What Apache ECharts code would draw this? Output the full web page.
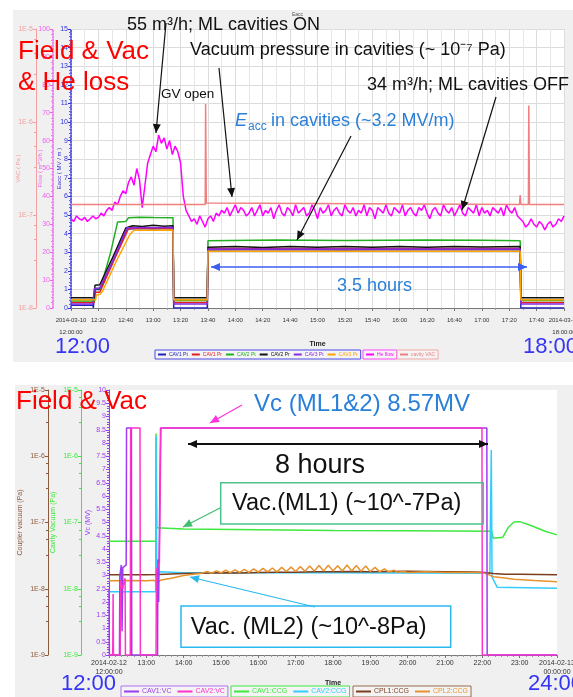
<!DOCTYPE html>
<html>
<head>
<meta charset="utf-8">
<script src="https://cdn.jsdelivr.net/npm/echarts@6/dist/echarts.min.js"></script>
<style>
html,body{margin:0;padding:0;background:#fff;}
#main{width:573px;height:697px;}
</style>
</head>
<body>
<div id="main"></div>
<script>
// ---- top chart (minutes after 12:00, 2014-03-10) ----
var cavNames = ['CAV1 Pt','CAV1 Pr','CAV2 Pt','CAV2 Pr','CAV3 Pt','CAV3 Pr'];
var cavColors = ['#2020c0','#e02020','#22b022','#111111','#8a2be2','#ffa500'];
var cav1Pt = [[0,0.15],[16,0.15],[16.3,0],[17,0],[17.5,1.0],[21,1.0],[22,1.1],[30,2.4],[41,4.25],[50,4.28],[60,4.25],[74.5,4.27],[75,0],[99.5,0],[100,3.12],[150,3.14],[200,3.12],[250,3.15],[300,3.13],[328,3.13],[328.5,0],[360,0]];
var cav1Pr = [[0,0.3],[17,0.3],[18,0.85],[21,0.85],[22,0.95],[31,2.5],[42,4.28],[55,4.3],[74.5,4.28],[75,0.3],[99.5,0.3],[100,3.2],[328,3.2],[328.5,0.3],[360,0.3]];
var cav2Pt = [[0,0.38],[17,0.38],[18,1.05],[21,1.05],[22,1.2],[29,3.0],[34,4.62],[40,4.65],[42,4.85],[50,4.88],[60,4.86],[74.5,4.85],[75,0.4],[99.5,0.4],[100,3.62],[150,3.65],[200,3.63],[260,3.66],[300,3.64],[328,3.62],[328.5,0.4],[360,0.4]];
var cav2Pr = [[0,0.55],[17,0.55],[17.5,1.22],[21,1.25],[22,1.3],[31,2.8],[40,4.3],[45,4.42],[52,4.38],[60,4.45],[68,4.4],[74.5,4.42],[75,0.55],[99.5,0.55],[100,3.27],[120,3.3],[140,3.25],[160,3.3],[180,3.26],[200,3.31],[220,3.27],[240,3.3],[260,3.26],[280,3.31],[300,3.28],[328,3.3],[328.5,0.55],[360,0.55]];
var cav3Pt = [[0,0.22],[16,0.22],[17,1.05],[21,1.08],[22,1.1],[31,2.6],[41,4.32],[74.5,4.33],[75,0.22],[99.5,0.22],[100,3.17],[328,3.17],[328.5,0.22],[360,0.22]];
var cav3Pr = [[0,0.45],[18,0.45],[18.5,0.7],[21,0.72],[23,0.9],[33,2.5],[43,3.95],[46,4.18],[74.5,4.2],[75,0.45],[99.5,0.45],[100,3.05],[328,3.05],[328.5,0.45],[360,0.45]];
var cavData = [cav1Pt, cav1Pr, cav2Pt, cav2Pr, cav3Pt, cav3Pr];

// He flow (m3/h), one reading every 2 min
var heFlow = [
  32,31,33,32,31.5,32.5,31,32,33,32,32.5,
  34,33,35,36,35,
  38,37,40,42,41,45,47,44,
  50,46,36,44,52,
  55,58,56,62,59,
  61,57,60,55,58,56,
  52,40,35,33,31,
  32,30,33,31,29,
  32,33,31,34,33,35,34,36,33,35,37,34,36,35,33,
  34,36,33,35,37,33,35,34,36,32,
  35,37,34,33,36,35,33,37,34,35,
  36,33,34,37,35,32,36,34,35,37,
  33,35,36,34,33,37,35,34,36,33,
  35,34,37,33,36,35,32,36,35,34,
  37,34,33,36,35,34,37,33,35,36,
  34,33,36,35,37,34,32,35,36,34,
  33,37,35,34,36,33,35,37,34,33,
  36,35,34,37,33,36,34,35,33,36,
  35,34,36,33,37,35,34,36,33,32,
  31,29,30,32,30,29,31,30,28,30,31,29,30,32,31,33
];
var cavityVac = [[0,1.3e-7],[98,1.3e-7],[98.3,1.56e-6],[98.8,1.35e-7],[100,1.3e-7],[327.5,1.3e-7],[328,1.64e-7],[328.5,1.3e-7],[334,1.3e-7],[334.3,1.5e-6],[334.8,1.3e-7],[360,1.3e-7]];

// ---- bottom chart (hours, 2014-02-12) ----
var cav1Vc = [[12.0,2.5],[12.01,0],[12.28,0],[12.29,3.0],[12.33,3.4],[12.35,0.9],[12.37,3.3],[12.46,3.4],[12.47,8.57],[12.6,8.57],[12.61,0],[13.3,0],[13.31,3.6],[13.33,2.0],[13.35,4.6],[13.38,8.57],[22.12,8.57],[22.13,0],[24,0]];
var cav2Vc = [[12.0,0],[12.1,0],[12.11,2.3],[12.12,0],[12.3,0],[12.31,2.8],[12.36,2.5],[12.43,2.9],[12.44,0],[12.57,0],[12.58,8.57],[12.83,8.57],[12.84,0],[13.26,0],[13.27,3.2],[13.35,3.5],[13.39,8.57],[21.99,8.57],[22.0,0],[24,0]];
var cav1Ccg = [[12.0,5.2e-8],[13.25,5.2e-8],[13.26,2.2e-6],[13.28,8.3e-8],[14,8.0e-8],[16,7.8e-8],[18,7.6e-8],[20,7.5e-8],[22.25,7.4e-8],[22.29,5.8e-8],[22.55,6.0e-8],[22.7,8.5e-8],[22.85,1.02e-7],[23.0,1.03e-7],[23.3,9.0e-8],[23.7,7.3e-8],[24,6.5e-8]];
var cav2Ccg = [[12.0,9.0e-9],[13.25,9.0e-9],[13.26,2.0e-6],[13.28,1.6e-8],[13.35,1.8e-8],[14,1.75e-8],[16,1.75e-8],[18,1.75e-8],[20,1.73e-8],[22.2,1.72e-8],[22.24,1.24e-6],[22.26,1.5e-8],[22.4,1.05e-8],[24,1.02e-8]];
var cpl1Ccg = [[12.0,1.62e-8],[13.0,1.62e-8],[13.3,1.64e-8],[13.5,1.66e-8],[14.0,1.7e-8],[14.5,1.72e-8],[15.0,1.74e-8],[15.5,1.73e-8],[16.0,1.76e-8],[16.5,1.77e-8],[17.0,1.78e-8],[17.5,1.8e-8],[18.0,1.81e-8],[18.5,1.82e-8],[19.0,1.81e-8],[19.5,1.82e-8],[20.0,1.83e-8],[20.5,1.82e-8],[21.0,1.81e-8],[21.5,1.8e-8],[22.0,1.78e-8],[22.3,1.7e-8],[22.6,1.66e-8],[23.0,1.65e-8],[23.5,1.64e-8],[24.0,1.63e-8]];
var cpl2Ccg = [[12.0,1.32e-8],[12.5,1.33e-8],[13.0,1.32e-8],[13.2,1.34e-8],[13.3,1.25e-8],[13.4,1.36e-8],[13.7,1.45e-8],[14.0,1.58e-8],[14.25,1.66e-8],[14.5,1.72e-8],
  [14.625,1.82e-8],[14.75,1.72e-8],[14.875,1.86e-8],[15.0,1.74e-8],[15.125,1.9e-8],[15.25,1.75e-8],[15.375,1.93e-8],[15.5,1.76e-8],[15.625,1.96e-8],[15.75,1.77e-8],[15.875,2.0e-8],[16.0,1.78e-8],[16.125,2.03e-8],[16.25,1.8e-8],[16.375,2.06e-8],[16.5,1.8e-8],[16.625,2.1e-8],[16.75,1.82e-8],[16.875,2.12e-8],[17.0,1.82e-8],[17.125,2.16e-8],[17.25,1.84e-8],[17.375,2.2e-8],[17.5,1.85e-8],[17.625,2.24e-8],[17.75,1.86e-8],[17.875,2.26e-8],[18.0,1.86e-8],[18.125,2.22e-8],[18.25,1.85e-8],[18.375,2.28e-8],[18.5,1.86e-8],[18.625,2.25e-8],[18.75,1.84e-8],[18.875,2.2e-8],[19.0,1.82e-8],[19.125,2.1e-8],[19.25,1.8e-8],[19.375,2.0e-8],[19.5,1.78e-8],[19.625,1.9e-8],[19.75,1.77e-8],[19.875,1.84e-8],[20.0,1.76e-8],
  [20.5,1.8e-8],[21.0,1.76e-8],[21.5,1.78e-8],[22.0,1.74e-8],[22.15,1.65e-8],[22.3,1.52e-8],[22.6,1.45e-8],[22.85,1.39e-8],[23.4,1.33e-8],[24.0,1.28e-8]];

var FONT = '"Liberation Sans", Arial, sans-serif';

function logLabel(v){ return '1E' + Math.round(Math.log10(v)); }
function topTime(v){
    if (v === 0) return '2014-03-10\n12:00:00';
    if (v === 360) return '2014-03-10\n18:00:00';
    var h = 12 + Math.floor(v / 60), m = v % 60;
    return h + ':' + (m < 10 ? '0' : '') + m;
}
function bottomTime(v){
    if (v === 12) return '2014-02-12\n12:00:00';
    if (v === 24) return '2014-02-13\n00:00:00';
    return v + ':00';
}

// arrows and labels drawn on top
function head(x1,y1,x2,y2,color){
    var a = Math.atan2(y2-y1, x2-x1), L = 9, W = 4;
    var bx = x2 - L*Math.cos(a), by = y2 - L*Math.sin(a);
    var px = -Math.sin(a)*W, py = Math.cos(a)*W;
    return {type:'polygon', z:100, silent:true, shape:{points:[[x2,y2],[bx+px,by+py],[bx-px,by-py]]}, style:{fill:color}};
}
function arrow(x1,y1,x2,y2,color,w,both){
    var els = [{type:'line', z:100, silent:true, shape:{x1:x1,y1:y1,x2:x2,y2:y2}, style:{stroke:color, lineWidth:w}}];
    els.push(head(x1,y1,x2,y2,color));
    if (both) els.push(head(x2,y2,x1,y1,color));
    return els;
}
function label(x,y,text,size,color,extra){
    return {type:'text', z:101, silent:true, x:x, y:y,
        style:{text:text, font:(extra||'') + size + 'px ' + FONT, fill:color, align:'left', verticalAlign:'middle'}};
}

var graphics = [
    {type:'rect', z:-10, silent:true, shape:{x:13,y:10,width:560,height:352}, style:{fill:'#f0f0f0'}},
    {type:'rect', z:-10, silent:true, shape:{x:15,y:385,width:558,height:312}, style:{fill:'#f0f0f0'}},
    label(18,51.6,'Field & Vac',26,'#ff0000'),
    label(18,82.6,'& He loss',26,'#ff0000'),
    label(127,25.4,'55 m\u00b3/h; ML cavities ON',18,'#111'),
    label(292,15,'Eacc',5,'#555'),
    label(190,50.4,'Vacuum pressure in cavities (~ 10\u207b\u2077 Pa)',18,'#111'),
    label(161,94.6,'GV open',13.5,'#111'),
    label(367,85.4,'34 m\u00b3/h; ML cavities OFF',18,'#111'),
    label(235,121.4,'E',18,'#2a80d8','italic '),
    label(248,127,'acc',12,'#2a80d8'),
    label(266,121.4,' in cavities (~3.2 MV/m)',18,'#2a80d8'),
    label(337,286,'3.5 hours',18,'#2a80d8'),
    label(55,346.5,'12:00',22,'#3535f5'),
    label(523,346.5,'18:00',22,'#3535f5'),
    label(16,402,'Field & Vac',26,'#ff0000'),
    label(254,404.6,'Vc (ML1&2) 8.57MV',24,'#2a80d8'),
    label(275,465.5,'8 hours',27,'#111'),
    {type:'rect', z:99, silent:true, shape:{x:220.7,y:482.7,width:262.6,height:41.3}, style:{fill:null, stroke:'#4cc38a', lineWidth:1.5}},
    label(232,503.5,'Vac.(ML1) (~10^-7Pa)',23.5,'#111'),
    {type:'rect', z:99, silent:true, shape:{x:181,y:606,width:269.7,height:41.3}, style:{fill:null, stroke:'#2ab8ef', lineWidth:1.5}},
    label(190.7,627.7,'Vac. (ML2) (~10^-8Pa)',23.5,'#111'),
    label(61,684,'12:00',22,'#3535f5'),
    label(528,684,'24:00',22,'#3535f5')
].concat(
    arrow(166,23,156,133,'#111',1.2),
    arrow(219,68,232,197,'#111',1.2),
    arrow(351,136,297,240,'#111',1.2),
    arrow(496,97,462,210,'#111',1.2),
    arrow(211,267,527,267,'#3c5ef0',1.5,true),
    arrow(242,405,210,423,'#ff33dd',1.2),
    arrow(188,444,488,444,'#111',2,true),
    arrow(220,508,183,527,'#3cbf6e',1.2),
    arrow(315,607,190,577,'#2ab8ef',1.2)
);

function yAx(grid, color, offset, name, gap, nameSize, extra){
    var a = {
        gridIndex: grid, type: 'value', position: 'left', offset: offset,
        name: name, nameLocation: 'middle', nameGap: gap, nameRotate: 90, nameMoveOverlap: false,
        nameTextStyle: {color: color, fontSize: nameSize, fontFamily: FONT},
        axisLine: {show: true, lineStyle: {color: color}},
        axisTick: {show: true, length: 3, lineStyle: {color: color}},
        axisLabel: {color: color, fontSize: 7, fontFamily: FONT, margin: 3},
        splitLine: {show: false}
    };
    for (var k in extra) a[k] = extra[k];
    return a;
}

var series = [];
for (var i = 0; i < cavData.length; i++) {
    series.push({name: cavNames[i], type: 'line', xAxisIndex: 0, yAxisIndex: 0, data: cavData[i],
        showSymbol: false, lineStyle: {width: 1.5, color: cavColors[i]}, itemStyle: {color: cavColors[i]}});
}
series.push({name: 'He flow', type: 'line', xAxisIndex: 0, yAxisIndex: 1,
    data: heFlow.map(function(v, j){ return [j * 2, v]; }),
    showSymbol: false, lineStyle: {width: 1.5, color: '#ff00ff'}, itemStyle: {color: '#ff00ff'}});
series.push({name: 'cavity VAC', type: 'line', xAxisIndex: 0, yAxisIndex: 2, data: cavityVac,
    showSymbol: false, lineStyle: {width: 1.5, color: '#f08080'}, itemStyle: {color: '#f08080'}});

var botNames = ['CAV1:CCG','CAV2:CCG','CPL1:CCG','CPL2:CCG','CAV1:VC','CAV2:VC'];
var botColors = ['#3ee83e','#33ccff','#7a3e1e','#e8922e','#9a3cf0','#ff33cc'];
var botData = [cav1Ccg, cav2Ccg, cpl1Ccg, cpl2Ccg, cav1Vc, cav2Vc];
var botAxis = [4, 4, 5, 5, 3, 3];
for (var j = 0; j < botData.length; j++) {
    series.push({name: botNames[j], type: 'line', xAxisIndex: 1, yAxisIndex: botAxis[j], data: botData[j],
        showSymbol: false, lineStyle: {width: 1.5, color: botColors[j]}, itemStyle: {color: botColors[j]}});
}

function legendBox(left, top, names, colors, border, fs, iw, gap){
    return {
        left: left, top: top, orient: 'horizontal', icon: 'rect',
        itemWidth: iw, itemHeight: 2, itemGap: gap, padding: [2, 3],
        borderColor: border, borderWidth: 1, backgroundColor: '#f4f4f4',
        selectedMode: false,
        data: names.map(function(n, k){ return {name: n, textStyle: {color: colors[k]}}; }),
        textStyle: {fontSize: fs, fontFamily: FONT, padding: [0, 0, 0, -2]}
    };
}

var option = {
    animation: false,
    backgroundColor: '#ffffff',
    graphic: {elements: graphics},
    legend: [
        legendBox(155, 350, cavNames, cavColors, '#4a4ae6', 5, 8, 4),
        legendBox(363, 350, ['He flow'], ['#ff00ff'], '#ff44ff', 5, 8, 2),
        legendBox(397, 350, ['cavity VAC'], ['#f08080'], '#f4a6a6', 5, 8, 2),
        legendBox(121, 686, ['CAV1:VC','CAV2:VC'], ['#9a3cf0','#ff33cc'], '#b070f0', 7, 15, 6),
        legendBox(231, 686, ['CAV1:CCG','CAV2:CCG'], ['#3ee83e','#33ccff'], '#3ee83e', 7, 15, 6),
        legendBox(353, 686, ['CPL1:CCG','CPL2:CCG'], ['#7a3e1e','#e8922e'], '#9a6a50', 7, 15, 6)
    ],
    grid: [
        {left: 71, right: 9, top: 29, height: 279, show: true, backgroundColor: '#ffffff', borderWidth: 0,
            containLabel: false, outerBoundsMode: 'none'},
        {left: 109, right: 16, top: 390, height: 265, show: true, backgroundColor: '#ffffff', borderWidth: 0,
            containLabel: false, outerBoundsMode: 'none'}
    ],
    xAxis: [
        {gridIndex: 0, type: 'value', min: 0, max: 360, interval: 20,
            name: 'Time', nameLocation: 'middle', nameGap: 33,
            nameTextStyle: {fontSize: 7, fontFamily: FONT, color: '#222', fontWeight: 'bold'},
            axisLine: {lineStyle: {color: '#777'}}, axisTick: {length: 3, lineStyle: {color: '#777'}},
            minorTick: {show: true, splitNumber: 2, length: 2, lineStyle: {color: '#999'}},
            axisLabel: {formatter: topTime, fontSize: 6, fontFamily: FONT, color: '#333', lineHeight: 12, margin: 6,
                showMinLabel: true, showMaxLabel: true, hideOverlap: false},
            splitLine: {show: true, lineStyle: {color: '#dcdcdc'}},
            minorSplitLine: {show: true, lineStyle: {color: '#e6e6e6'}}},
        {gridIndex: 1, type: 'value', min: 12, max: 24, interval: 1,
            name: 'Time', nameLocation: 'middle', nameGap: 25,
            nameTextStyle: {fontSize: 7, fontFamily: FONT, color: '#222', fontWeight: 'bold'},
            axisLine: {lineStyle: {color: '#777'}}, axisTick: {length: 3, lineStyle: {color: '#777'}},
            minorTick: {show: true, splitNumber: 6, length: 2, lineStyle: {color: '#999'}},
            axisLabel: {formatter: bottomTime, fontSize: 7, fontFamily: FONT, color: '#333', lineHeight: 9, margin: 4,
                showMinLabel: true, showMaxLabel: true, hideOverlap: false},
            splitLine: {show: false}}
    ],
    yAxis: [
        yAx(0, '#3030e0', 0, 'Eacc ( MV / m )', 9, 6, {min: 0, max: 15, interval: 1,
            axisLine: {show: true, lineStyle: {color: '#3030e0', type: 'dotted', width: 1.5}},
            minorTick: {show: true, splitNumber: 5, length: 2, lineStyle: {color: '#6060f0'}},
            splitLine: {show: true, lineStyle: {color: '#dcdcdc'}}}),
        yAx(0, '#f060f0', 18, 'Flow ( m^3/h )', 10, 6, {min: 0, max: 100, interval: 10,
            axisLine: {show: true, lineStyle: {color: '#f060f0', type: 'dotted', width: 1.5}},
            minorTick: {show: true, splitNumber: 5, length: 2, lineStyle: {color: '#f080f0'}}}),
        yAx(0, '#f4a0a0', 35, 'VAC ( Pa )', 15, 6, {type: 'log', logBase: 10, min: 1e-8, max: 1e-5,
            axisLabel: {color: '#f4a0a0', fontSize: 7, fontFamily: FONT, margin: 3, formatter: logLabel},
            minorTick: {show: true, splitNumber: 4, length: 2, lineStyle: {color: '#f4a0a0'}}}),
        yAx(1, '#9a3cf0', 0, 'Vc (MV)', 17, 7, {min: 0, max: 10, interval: 0.5,
            minorTick: {show: true, splitNumber: 5, length: 2, lineStyle: {color: '#9a3cf0'}}}),
        yAx(1, '#3ee83e', 28, 'Cavity Vacuum (Pa)', 24, 7, {type: 'log', logBase: 10, min: 1e-9, max: 1e-5,
            axisLabel: {color: '#3ee83e', fontSize: 7, fontFamily: FONT, margin: 3, formatter: logLabel},
            minorTick: {show: true, splitNumber: 4, length: 2, lineStyle: {color: '#3ee83e'}}}),
        yAx(1, '#8b5a3c', 61, 'Coupler vacuum (Pa)', 24, 7, {type: 'log', logBase: 10, min: 1e-9, max: 1e-5,
            axisLabel: {color: '#8b5a3c', fontSize: 7, fontFamily: FONT, margin: 3, formatter: logLabel},
            minorTick: {show: true, splitNumber: 4, length: 2, lineStyle: {color: '#8b5a3c'}}})
    ],
    series: series
};

var myChart = echarts.init(document.getElementById('main'));
myChart.setOption(option);
</script>
</body>
</html>
